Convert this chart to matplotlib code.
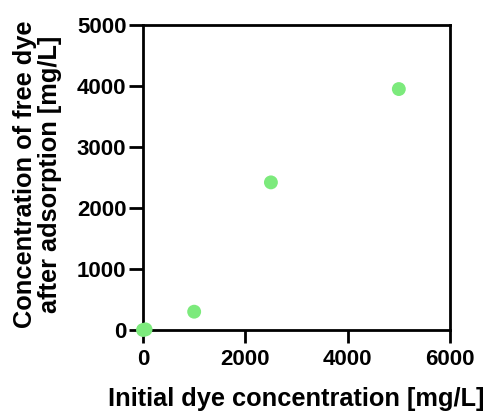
import matplotlib
matplotlib.use('Agg')
import matplotlib.pyplot as plt

# data
initial_conc = [0, 50, 1000, 2500, 5000]
free_conc = [0, 10, 300, 2420, 3950]
x_ticks = [0, 2000, 4000, 6000]
y_ticks = [0, 1000, 2000, 3000, 4000, 5000]

plt.rcParams['font.family'] = ['Liberation Sans', 'DejaVu Sans']
plt.rcParams['font.weight'] = 'bold'

fig = plt.figure(figsize=(4.9, 4.11), dpi=100)
ax = fig.add_axes([143/490, 1-330/411, 307/490, 305/411])

ax.scatter(initial_conc, free_conc, s=100, color='#7cea7c', zorder=3, clip_on=False,
           edgecolors='none')

ax.set_xlim(0, 6000)
ax.set_ylim(0, 5000)
ax.set_xticks(x_ticks)
ax.set_yticks(y_ticks)
ax.tick_params(direction='out', width=2, labelsize=16)
ax.tick_params(axis='x', length=9, pad=5)
ax.tick_params(axis='y', length=10, pad=2)
for lab in ax.get_xticklabels() + ax.get_yticklabels():
    lab.set_fontweight('bold')
for s in ax.spines.values():
    s.set_linewidth(2)

ax.set_xlabel('Initial dye concentration [mg/L]', fontsize=18.3, fontweight='bold', labelpad=12)
ax.set_ylabel('Concentration of free dye\nafter adsorption [mg/L]', fontsize=18.3,
              fontweight='bold', linespacing=1.05)
ax.yaxis.set_label_coords(-0.265, 0.51)

fig.savefig('out.png', dpi=100)
